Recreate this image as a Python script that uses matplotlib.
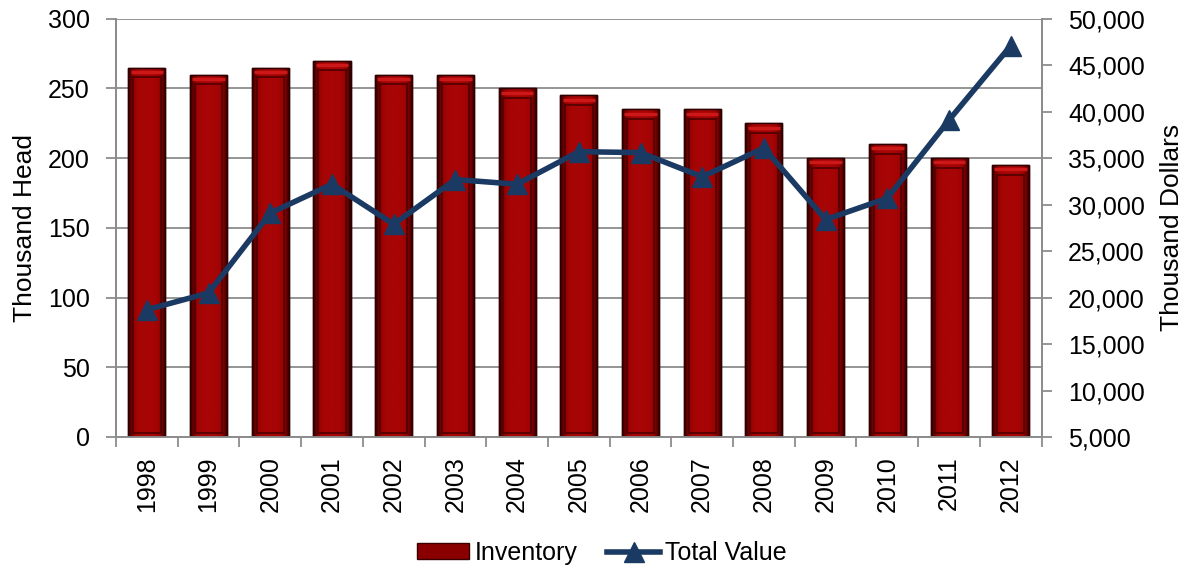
import matplotlib
matplotlib.use("Agg")
import matplotlib.pyplot as plt
import numpy as np
from matplotlib.lines import Line2D
from matplotlib.patches import Patch
from matplotlib.ticker import FuncFormatter

plt.rcParams['font.family'] = ['Liberation Sans', 'DejaVu Sans']

years = ['1998', '1999', '2000', '2001', '2002', '2003', '2004', '2005',
         '2006', '2007', '2008', '2009', '2010', '2011', '2012']
inventory = [265, 260, 265, 270, 260, 260, 250, 245, 235, 235, 225, 200, 210, 200, 195]
total_value = [18700, 20500, 29100, 32200, 27900, 32700, 32200, 35700,
               35600, 33000, 36100, 28400, 30700, 39100, 47100]

fig = plt.figure(figsize=(11.89, 5.69), dpi=100)
ax = fig.add_axes([0.0976, 0.232, 0.7784, 0.735])
ax2 = ax.twinx()

x = np.arange(len(years))
bars = ax.bar(x, inventory, width=0.6, color='#8c0000', edgecolor='#3a0000',
              linewidth=1.0, zorder=2)

# bevelled look: horizontal shading clipped to each bar
prof = np.linspace(-1, 1, 64)
shade = np.clip(1 - np.abs(prof) ** 2.5, 0, 1)
cmap = matplotlib.colors.LinearSegmentedColormap.from_list(
    'bev', ['#250000', '#640000', '#9c0202', '#a80606'])
for b in bars:
    x0, w, h = b.get_x(), b.get_width(), b.get_height()
    im = ax.imshow(shade[None, :], cmap=cmap, aspect='auto', vmin=0, vmax=1,
                   extent=[x0, x0 + w, 0, h], zorder=3, interpolation='bilinear')
    im.set_clip_path(b)
    # inner frame of the bevel
    ax.add_patch(plt.Rectangle((x0 + w * 0.13, 3), w * 0.74, h - 10,
                               fill=False, edgecolor='#4e0000', lw=1.2, zorder=4))
    ax.plot([x0 + w * 0.06, x0 + w * 0.94], [h - 3, h - 3], color='#cc1818',
            lw=2.5, zorder=4, solid_capstyle='butt')
    ax.plot([x0, x0 + w, x0 + w, x0, x0], [0, 0, h, h, 0], color='#2e0000',
            lw=1, zorder=5)

ax.set_xlim(-0.5, len(years) - 0.5)
ax.set_ylim(0, 300)
ax.set_yticks(range(0, 301, 50))
ax.yaxis.grid(True, color='#8c8c8c', lw=1.3)
ax.set_axisbelow(True)
ax.set_xticks(x)
ax.set_xticklabels(years, rotation=90, fontsize=18)
ax.set_xticks(np.arange(-0.5, len(years), 1), minor=True)
ax.tick_params(axis='x', which='major', length=0, pad=14)
ax.tick_params(axis='x', which='minor', length=7, color='#8c8c8c', width=1.3)
ax.tick_params(axis='y', labelsize=18, length=7, color='#8c8c8c', width=1.3,
               pad=12)
ax.set_ylabel('Thousand Head', fontsize=19, labelpad=8)

ax2.plot(x, total_value, color='#1b3a63', lw=4, marker='^', markersize=15,
         zorder=6)
ax2.set_ylim(5000, 50000)
ax2.set_yticks(range(5000, 50001, 5000))
ax2.yaxis.set_major_formatter(FuncFormatter(lambda v, p: f'{int(v):,}'))
ax2.tick_params(axis='y', labelsize=18, length=7, color='#8c8c8c', width=1.3,
                pad=12)
ax2.set_ylabel('Thousand Dollars', fontsize=19, labelpad=11)

for a in (ax, ax2):
    for side in ('left', 'right', 'bottom'):
        a.spines[side].set_color('#8c8c8c')
        a.spines[side].set_linewidth(1.3)
    a.spines['top'].set_visible(False)

handles = [Patch(facecolor='#8a0000', edgecolor='#3a0000', label='Inventory'),
           Line2D([0], [0], color='#1b3a63', lw=4, marker='^', markersize=14,
                  label='Total Value')]
fig.legend(handles=handles, loc='center', bbox_to_anchor=(0.506, 0.028),
           ncol=2, frameon=False, fontsize=18, handlelength=2.1,
           handleheight=0.6, handletextpad=0.2, columnspacing=1.2,
           borderpad=0)

fig.savefig('out.png', dpi=100)
